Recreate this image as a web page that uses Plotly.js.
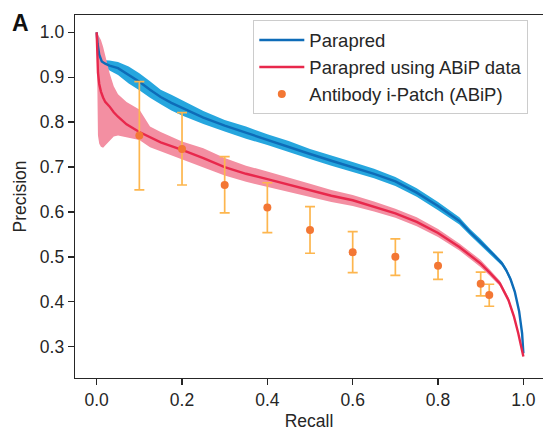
<!DOCTYPE html>
<html>
<head>
<meta charset="utf-8">
<script src="https://cdn.plot.ly/plotly-3.0.1.min.js"></script>
<style>html,body{margin:0;padding:0;background:#fff;}#chart{width:543px;height:431px;}</style>
</head>
<body>
<div id="chart"></div>
<script>
// Parapred (blue)
var recallP = [0, 0.002, 0.006, 0.012, 0.02, 0.03, 0.05, 0.075, 0.1, 0.125, 0.15, 0.175, 0.2, 0.25, 0.3, 0.35, 0.4, 0.45, 0.5, 0.55, 0.6, 0.65, 0.7, 0.75, 0.8, 0.85, 0.875, 0.9, 0.93, 0.95, 0.96, 0.97, 0.98, 0.99, 0.997, 1.0];
var precP   = [1.0, 0.975, 0.95, 0.935, 0.93, 0.926, 0.92, 0.905, 0.89, 0.872, 0.856, 0.843, 0.832, 0.81, 0.792, 0.776, 0.761, 0.745, 0.729, 0.714, 0.70, 0.685, 0.668, 0.643, 0.613, 0.58, 0.555, 0.533, 0.505, 0.485, 0.47, 0.45, 0.422, 0.379, 0.33, 0.285];
var precPHi = [1.0, 0.98, 0.956, 0.942, 0.938, 0.937, 0.934, 0.924, 0.909, 0.891, 0.872, 0.861, 0.849, 0.825, 0.805, 0.79, 0.773, 0.758, 0.74, 0.726, 0.711, 0.696, 0.678, 0.653, 0.622, 0.588, 0.562, 0.54, 0.511, 0.49, 0.475, 0.455, 0.427, 0.383, 0.333, 0.287];
var precPLo = [1.0, 0.97, 0.944, 0.929, 0.922, 0.915, 0.905, 0.886, 0.871, 0.854, 0.84, 0.826, 0.815, 0.796, 0.779, 0.763, 0.749, 0.733, 0.718, 0.703, 0.689, 0.675, 0.658, 0.634, 0.604, 0.572, 0.548, 0.526, 0.499, 0.48, 0.465, 0.445, 0.417, 0.375, 0.327, 0.283];

// Parapred using ABiP data (red)
var recallA = [0, 0.001, 0.003, 0.006, 0.01, 0.015, 0.02, 0.03, 0.04, 0.05, 0.07, 0.1, 0.125, 0.15, 0.2, 0.25, 0.3, 0.35, 0.4, 0.45, 0.5, 0.55, 0.6, 0.65, 0.7, 0.75, 0.8, 0.85, 0.88, 0.9, 0.92, 0.945, 0.965, 0.978, 0.988, 0.996, 1.0];
var precA   = [1.0, 0.95, 0.91, 0.885, 0.868, 0.855, 0.845, 0.835, 0.822, 0.812, 0.795, 0.778, 0.766, 0.755, 0.738, 0.72, 0.70, 0.685, 0.673, 0.661, 0.649, 0.636, 0.626, 0.612, 0.597, 0.578, 0.553, 0.522, 0.5, 0.485, 0.466, 0.441, 0.404, 0.367, 0.33, 0.293, 0.278];
var precAHi = [1.0, 1.0, 0.995, 0.99, 0.983, 0.968, 0.948, 0.91, 0.88, 0.862, 0.845, 0.828, 0.79, 0.778, 0.757, 0.742, 0.72, 0.703, 0.69, 0.677, 0.663, 0.649, 0.638, 0.623, 0.607, 0.588, 0.562, 0.53, 0.508, 0.493, 0.473, 0.447, 0.41, 0.372, 0.334, 0.296, 0.28];
var precALo = [1.0, 0.82, 0.77, 0.752, 0.745, 0.743, 0.748, 0.758, 0.768, 0.77, 0.766, 0.76, 0.744, 0.735, 0.716, 0.699, 0.681, 0.667, 0.656, 0.645, 0.634, 0.622, 0.613, 0.601, 0.587, 0.568, 0.544, 0.514, 0.492, 0.477, 0.459, 0.435, 0.398, 0.362, 0.326, 0.29, 0.276];

// Antibody i-Patch (ABiP)
var recallB = [0.1, 0.2, 0.3, 0.4, 0.5, 0.6, 0.7, 0.8, 0.9, 0.92];
var precB   = [0.77, 0.74, 0.66, 0.61, 0.56, 0.51, 0.50, 0.48, 0.44, 0.415];
var precBHi = [0.89, 0.821, 0.723, 0.665, 0.612, 0.556, 0.54, 0.51, 0.466, 0.439];
var precBLo = [0.649, 0.66, 0.598, 0.554, 0.508, 0.465, 0.459, 0.45, 0.413, 0.39];

var xTicks = [0, 0.2, 0.4, 0.6, 0.8, 1.0];
var xTickText = ['0.0', '0.2', '0.4', '0.6', '0.8', '1.0'];
var yTicks = [0.3, 0.4, 0.5, 0.6, 0.7, 0.8, 0.9, 1.0];
var yTickText = ['0.3', '0.4', '0.5', '0.6', '0.7', '0.8', '0.9', '1.0'];

var blueLine = 'rgb(14,108,184)', blueBand = 'rgb(38,166,222)';
var redLine = 'rgb(232,40,76)', redBand = 'rgb(243,143,162)';
var ink = '#262626';
var FONT = 'Liberation Sans, Arial, Helvetica, sans-serif';

var errPlus = precBHi.map(function(v, i){ return v - precB[i]; });
var errMinus = precB.map(function(v, i){ return v - precBLo[i]; });

var traces = [
  {x: recallP, y: precPLo, mode: 'lines', line: {width: 0, color: blueBand}, showlegend: false, hoverinfo: 'skip'},
  {x: recallP, y: precPHi, mode: 'lines', line: {width: 0, color: blueBand}, fill: 'tonexty', fillcolor: blueBand, showlegend: false, hoverinfo: 'skip'},
  {x: recallA, y: precALo, mode: 'lines', line: {width: 0, color: redBand}, showlegend: false, hoverinfo: 'skip'},
  {x: recallA, y: precAHi, mode: 'lines', line: {width: 0, color: redBand}, fill: 'tonexty', fillcolor: redBand, showlegend: false, hoverinfo: 'skip'},
  {x: recallP, y: precP, mode: 'lines', name: 'Parapred', line: {color: blueLine, width: 2.4}},
  {x: recallA, y: precA, mode: 'lines', name: 'Parapred using ABiP data', line: {color: redLine, width: 2.4}},
  {x: recallB, y: precB, mode: 'markers', name: 'Antibody i-Patch (ABiP)',
   marker: {color: 'rgb(243,119,52)', size: 8},
   error_y: {type: 'data', symmetric: false, array: errPlus, arrayminus: errMinus, color: 'rgb(253,182,78)', thickness: 1.7, width: 5}}
];

var layout = {
  width: 543, height: 431,
  margin: {l: 75, r: 0, t: 15, b: 53},
  paper_bgcolor: '#fff', plot_bgcolor: '#fff',
  font: {family: FONT, size: 17, color: ink},
  showlegend: true,
  legend: {x: 0.381, y: 0.985, xanchor: 'left', yanchor: 'top', traceorder: 'normal', bgcolor: 'rgba(255,255,255,0.85)',
           bordercolor: '#cccccc', borderwidth: 1, font: {family: FONT, size: 18.5, color: ink}, itemwidth: 45},
  xaxis: {range: [-0.0508, 1.046], tickvals: xTicks, ticktext: xTickText, ticks: 'outside', ticklen: 6, tickwidth: 1.3, tickcolor: ink,
          showline: true, mirror: true, linecolor: ink, linewidth: 1.3, showgrid: false, zeroline: false,
          tickfont: {family: FONT, size: 17.5, color: ink},
          title: {text: 'Recall', font: {family: FONT, size: 17.5, color: ink}, standoff: 8}},
  yaxis: {range: [0.2303, 1.0385], tickvals: yTicks, ticktext: yTickText, ticks: 'outside', ticklen: 6, tickwidth: 1.3, tickcolor: ink,
          showline: true, mirror: false, linecolor: ink, linewidth: 1.3, showgrid: false, zeroline: false,
          tickfont: {family: FONT, size: 17.5, color: ink},
          title: {text: 'Precision', font: {family: FONT, size: 17.5, color: ink}, standoff: 8}},
  annotations: [{text: '<b>A</b>', xref: 'paper', yref: 'paper', x: -0.1165, y: 0.977, xanchor: 'center', yanchor: 'middle',
                 showarrow: false, font: {family: FONT, size: 23, color: '#111'}}]
};

Plotly.newPlot('chart', traces, layout, {displayModeBar: false, staticPlot: true});
</script>
</body>
</html>
